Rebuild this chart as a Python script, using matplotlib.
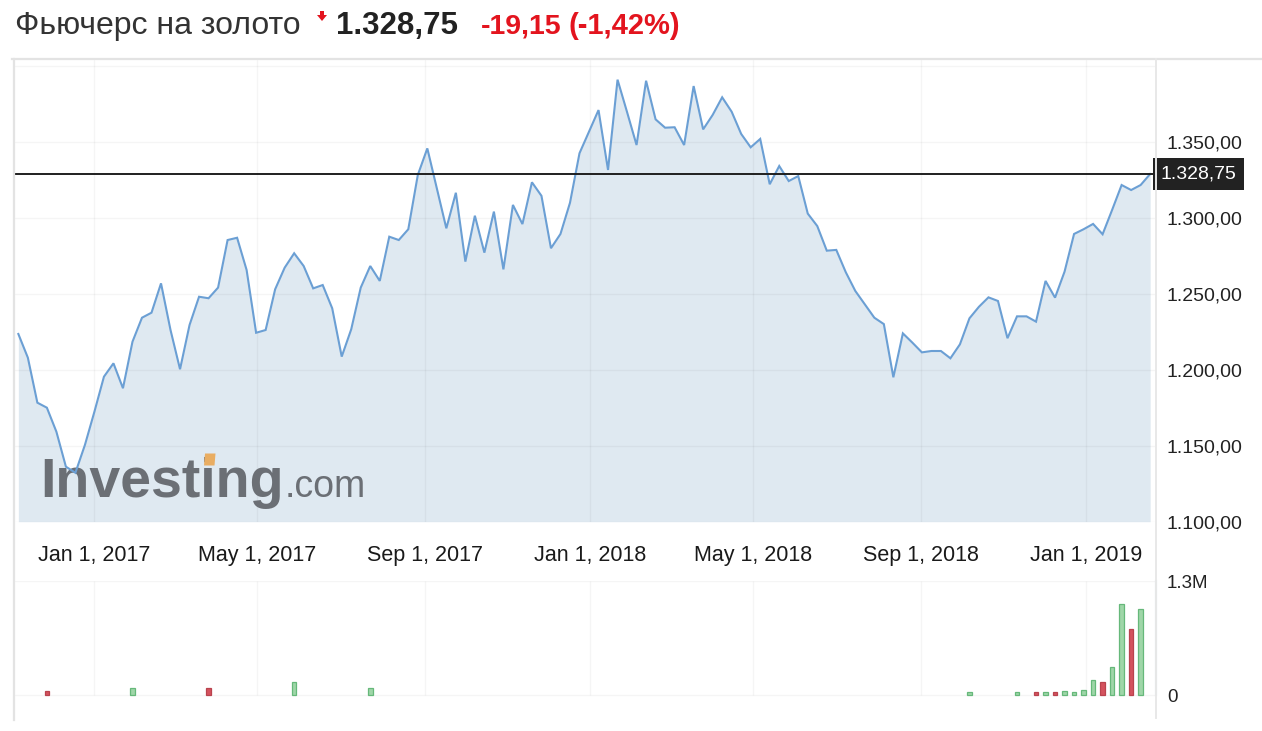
import matplotlib
matplotlib.use("Agg")
import matplotlib.pyplot as plt
import matplotlib.dates as mdates
from matplotlib.lines import Line2D
from matplotlib.patches import Polygon
from matplotlib.transforms import blended_transform_factory
import pandas as pd

# ---------------- data ----------------
start_date = "2016-11-06"          # weekly closes (Sundays)
prices = [
    1223.5, 1207.9, 1178.3, 1175.0, 1159.2, 1136.2, 1132.2, 1150.5, 1172.4, 1195.4,
    1204.2, 1187.8, 1218.4, 1234.2, 1237.5, 1256.8, 1226.1, 1200.3, 1229.4, 1248.0,
    1247.0, 1254.0, 1285.3, 1286.8, 1265.6, 1224.3, 1226.1, 1252.9, 1267.1, 1276.6,
    1268.2, 1253.5, 1255.7, 1240.4, 1208.6, 1226.6, 1254.0, 1268.2, 1258.4, 1287.5,
    1285.3, 1292.4, 1328.1,
    1345.6, 1319.3, 1293.0, 1316.4, 1271.1, 1301.3, 1277.0, 1304.0, 1266.0, 1308.4,
    1295.8, 1323.3, 1314.4, 1279.9, 1289.3, 1309.8, 1342.4, 1356.6, 1370.8, 1331.4,
    1390.8, 1369.5, 1347.8, 1390.1, 1364.7, 1359.2, 1359.5, 1347.8, 1386.6, 1358.1,
    1367.6, 1379.2, 1369.7, 1355.1, 1346.3, 1351.8, 1322.0, 1334.0, 1324.1, 1327.4,
    1302.7, 1294.5,
    1278.3, 1278.8, 1264.1, 1251.8, 1243.0, 1234.2, 1230.0, 1195.0, 1223.9, 1217.8,
    1211.4, 1212.3, 1212.3, 1207.5, 1216.7, 1233.8, 1241.4, 1247.6, 1245.2, 1220.7,
    1235.1, 1235.1, 1231.6, 1258.4, 1247.4, 1264.5, 1289.3, 1292.4, 1295.9, 1289.1,
    1305.1, 1321.5, 1318.2, 1321.5, 1328.75,
]
# volume bars: week index -> volume
volume_weeks = [3, 12, 20, 29, 37, 100, 105, 107, 108, 109, 110, 111, 112, 113,
                114, 115, 116, 117, 118]
volume_values = [49e3, 75e3, 75e3, 143e3, 75e3, 30e3, 30e3, 30e3, 30e3, 30e3,
                 49e3, 30e3, 53e3, 166e3, 143e3, 320e3, 1043e3, 754e3, 980e3]

last_price = 1328.75
change_abs = "-19,15"
change_pct = "(-1,42%)"
title = "Фьючерс на золото"

x_tick_dates = ["2017-01-01", "2017-05-01", "2017-09-01", "2018-01-01",
                "2018-05-01", "2018-09-01", "2019-01-01"]
x_tick_labels = ["Jan 1, 2017", "May 1, 2017", "Sep 1, 2017", "Jan 1, 2018",
                 "May 1, 2018", "Sep 1, 2018", "Jan 1, 2019"]
price_ticks = [1100, 1150, 1200, 1250, 1300, 1350]
price_grid = [1100, 1150, 1200, 1250, 1300, 1350, 1400]
vol_ticks = [0, 1.3e6]
vol_tick_labels = ["0", "1.3M"]

# ---------------- layout helpers ----------------
W, H = 1262, 731
def fx(px): return px / W
def fy(py): return 1 - py / H

plt.rcParams['font.family'] = ['Liberation Sans', 'DejaVu Sans']

fig = plt.figure(figsize=(W / 100, H / 100), dpi=100)
fig.patch.set_facecolor("white")

dates = pd.date_range(start_date, periods=len(prices), freq="W-SUN")
xnum = mdates.date2num(dates)
tick_num = mdates.date2num(pd.to_datetime(x_tick_dates))
xlim = (xnum[0] - 3.2, xnum[-1] + 4.3)

def fmt_price(v):
    s = f"{v:,.2f}"
    return s.replace(",", "X").replace(".", ",").replace("X", ".")

grid_alpha = 0.038

# ---------------- price panel ----------------
ax = fig.add_axes([fx(14), fy(521.7), fx(1156) - fx(14), fy(59) - fy(521.7)])
ax.set_xlim(*xlim)
ax.set_ylim(1100, 1404.4)
for s in ax.spines.values():
    s.set_visible(False)

ax.fill_between(xnum, prices, 1100, color="#dfe9f1", lw=0, zorder=1)
for g in price_grid:
    ax.axhline(g, color="black", alpha=grid_alpha, lw=1.0, zorder=2)
for t in tick_num:
    ax.axvline(t, color="black", alpha=grid_alpha, lw=1.0, zorder=2)

# watermark logo
logo_grey = "#6b6f75"
ax.text(fx(40), fy(497), "Investing", transform=fig.transFigure,
        fontsize=40, fontweight="bold", color=logo_grey, ha="left",
        va="baseline", zorder=3)
ax.text(fx(285), fy(497), ".com", transform=fig.transFigure,
        fontsize=27, color=logo_grey, ha="left", va="baseline", zorder=3)
ax.add_patch(Polygon([[fx(204), fy(465.5)], [fx(214.5), fy(465.5)],
                      [fx(215.5), fy(453.5)], [fx(205), fy(453.5)]], closed=True,
                     transform=fig.transFigure, fc="#e9ad62", ec="none", zorder=3.5))

ax.plot(xnum, prices, color="#6b9fd4", lw=1.5, zorder=5, solid_joinstyle="miter")
ax.axhline(last_price, color="#1f1f1f", lw=1.4, zorder=6)

ax.set_xticks(tick_num, x_tick_labels)
ax.tick_params(axis="x", length=0, pad=17, labelsize=15.5, labelcolor="#1a1a1a")
ax.yaxis.tick_right()
ax.set_yticks(price_ticks, [fmt_price(v) for v in price_ticks])
ax.tick_params(axis="y", length=0, pad=7.5, labelsize=14, labelcolor="#222222")

tr = blended_transform_factory(ax.transAxes, ax.transData)
ax.text((1198.5 - 14) / (1156 - 14), last_price, fmt_price(last_price), transform=tr,
        ha="center", va="center", fontsize=14, color="white", zorder=10,
        bbox=dict(boxstyle="square,pad=0.38", fc="#222222", ec="none"), clip_on=False)

# ---------------- volume panel ----------------
vax = fig.add_axes([fx(14), fy(718), fx(1156) - fx(14), fy(581) - fy(718)])
vax.set_xlim(*xlim)
vmax = vol_ticks[-1]
vax.set_ylim(-vmax * 23 / 114, vmax)
for s in vax.spines.values():
    s.set_visible(False)
for g in vol_ticks:
    vax.axhline(g, color="black", alpha=grid_alpha, lw=1.0, zorder=1)
vax.vlines(tick_num, 0, vmax, color="black", alpha=grid_alpha, lw=1.0, zorder=1)

bx = [xnum[i] for i in volume_weeks]
up = [prices[i] >= prices[i - 1] for i in volume_weeks]
fc = ["#9fd6a8" if u else "#d4525e" for u in up]
ec = ["#66b87a" if u else "#b9434e" for u in up]
vax.bar(bx, volume_values, width=3.4, color=fc, edgecolor=ec, linewidth=0.9, zorder=3)

vax.set_xticks([])
vax.yaxis.tick_right()
vax.set_yticks(vol_ticks, vol_tick_labels)
vax.tick_params(axis="y", length=0, pad=8, labelsize=13.5, labelcolor="#222222")
trv = blended_transform_factory(vax.transAxes, vax.transData)
vax.add_line(Line2D([1, 1], [0, vmax], transform=trv, color="#b9c6d8", lw=1.5,
                    clip_on=False, zorder=4))

# ---------------- frame lines ----------------
frame_col = "#e3e3e3"
fig.add_artist(Line2D([fx(13.5), fx(13.5)], [fy(59), fy(720)], color=frame_col, lw=1.6))
fig.add_artist(Line2D([fx(12), fx(1262)], [fy(59), fy(59)], color=frame_col, lw=1.6))
fig.add_artist(Line2D([fx(1156), fx(1156)], [fy(59), fy(718)], color="#e8e8e8", lw=1.4))

# ---------------- header ----------------
red = "#e3141e"
fig.text(fx(15), fy(34), title, fontsize=23, color="#333333", ha="left", va="baseline")
fig.add_artist(Polygon([[fx(320), fy(11)], [fx(324), fy(11)], [fx(324), fy(15)],
                        [fx(327), fy(15)], [fx(322), fy(21)], [fx(317), fy(15)],
                        [fx(320), fy(15)]], closed=True, transform=fig.transFigure,
                       fc=red, ec="none"))
fig.text(fx(336), fy(34), fmt_price(last_price), fontsize=22.5, fontweight="bold",
         color="#222222", ha="left", va="baseline")
fig.text(fx(481), fy(34), change_abs, fontsize=20.5, fontweight="bold", color=red,
         ha="left", va="baseline")
fig.text(fx(569), fy(34), change_pct, fontsize=21, fontweight="bold", color=red,
         ha="left", va="baseline")

fig.savefig("out.png", dpi=100, facecolor="white")
